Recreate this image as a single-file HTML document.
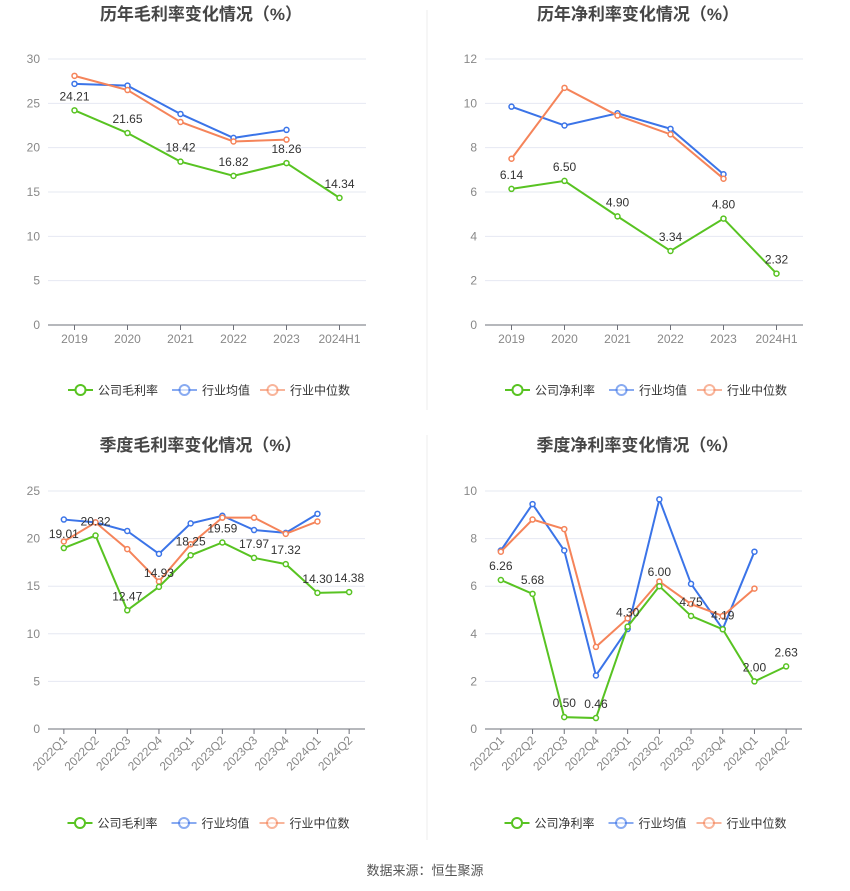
<!DOCTYPE html>
<html><head><meta charset="utf-8">
<style>
body{margin:0;background:#fff;width:850px;height:891px;overflow:hidden;font-family:"Liberation Sans","Noto Sans CJK SC",sans-serif;}
svg{display:block}
</style></head>
<body>
<svg id="root" width="850" height="891">
<line x1="427" y1="10" x2="427" y2="410" stroke="#eeeeee"/>
<line x1="427" y1="435" x2="427" y2="840" stroke="#eeeeee"/>
<text x="425" y="875" text-anchor="middle" font-size="13" fill="#555">数据来源：恒生聚源</text>
</svg>
<script>
const yearCats=["2019","2020","2021","2022","2023","2024H1"];
const qCats=["2022Q1","2022Q2","2022Q3","2022Q4","2023Q1","2023Q2","2023Q3","2023Q4","2024Q1","2024Q2"];
const c1Company=[24.21,21.65,18.42,16.82,18.26,14.34];
const c1Avg=[27.2,27.0,23.8,21.1,22.0];
const c1Med=[28.1,26.5,22.9,20.7,20.9];
const c1Ticks=[0,5,10,15,20,25,30];
const c2Company=[6.14,6.50,4.90,3.34,4.80,2.32];
const c2Avg=[9.85,9.0,9.55,8.85,6.8];
const c2Med=[7.5,10.7,9.45,8.6,6.6];
const c2Ticks=[0,2,4,6,8,10,12];
const c3Company=[19.01,20.32,12.47,14.93,18.25,19.59,17.97,17.32,14.30,14.38];
const c3Avg=[22.0,21.7,20.8,18.4,21.6,22.4,20.9,20.6,22.6];
const c3Med=[19.7,21.7,18.9,15.5,19.4,22.2,22.2,20.5,21.8];
const c3Ticks=[0,5,10,15,20,25];
const c4Company=[6.26,5.68,0.50,0.46,4.30,6.00,4.75,4.19,2.00,2.63];
const c4Avg=[7.5,9.45,7.5,2.25,4.2,9.65,6.1,4.2,7.45];
const c4Med=[7.45,8.8,8.4,3.45,4.65,6.2,5.25,4.75,5.9];
const c4Ticks=[0,2,4,6,8,10];

const NS="http://www.w3.org/2000/svg";
const root=document.getElementById('root');
function mk(tag,attrs,parent){const e=document.createElementNS(NS,tag);for(const k in attrs)e.setAttribute(k,attrs[k]);(parent||root).appendChild(e);return e;}

function chart(o){
  const g=mk('g',{});
  
  
  const x0=o.x0,x1=o.x1,yTop=o.yTop,yBot=o.yBot,max=o.ticks[o.ticks.length-1];
  const n=o.cats.length,bw=(x1-x0)/n;
  const X=i=>x0+bw*(i+0.5);
  const Y=v=>yBot-(v/max)*(yBot-yTop);
  const t=mk('text',{x:(x0+x1)/2-6,y:o.titleY,'text-anchor':'middle','font-size':'17','font-weight':'bold',fill:'#464646'},g);
  t.textContent=o.title;
  
  
  o.ticks.forEach(v=>{
    if(v>0){const l=mk('line',{x1:x0,x2:x1,y1:Y(v),y2:Y(v),stroke:'#e6e8f2'},g);
      
      }
    const tt=mk('text',{x:x0-8,y:Y(v)+4,'text-anchor':'end','font-size':'12',fill:'#888'},g);
    tt.textContent=v;
    
    
  });
  const ax=mk('line',{x1:x0,x2:x1,y1:yBot,y2:yBot,stroke:'#6e7079'},g);
  
  
  o.cats.forEach((c,i)=>{
    mk('line',{x1:X(i),x2:X(i),y1:yBot,y2:yBot+5,stroke:'#6e7079'},g);
    let tt;
    if(o.rot){tt=mk('text',{x:X(i)+4,y:yBot+12,'text-anchor':'end','font-size':'12',fill:'#888',transform:`rotate(-45 ${X(i)+4} ${yBot+12})`},g);}
    else tt=mk('text',{x:X(i),y:yBot+18,'text-anchor':'middle','font-size':'12',fill:'#888'},g);
    tt.textContent=c;
    
    
  });
  const series=[[o.avg,'#3b74e8','industry-average-line'],[o.med,'#f5845a','industry-median-line'],[o.comp,'#58c322','company-line']];
  series.forEach(([d,col,nm])=>{
    const p=mk('polyline',{points:d.map((v,i)=>X(i)+','+Y(v)).join(' '),fill:'none',stroke:col,'stroke-width':'2'},g);
    
    
    d.forEach((v,i)=>{const c=mk('circle',{cx:X(i),cy:Y(v),r:2.5,fill:'#fff',stroke:col,'stroke-width':'1.5'},g);
      
      });
  });
  o.comp.forEach((v,i)=>{
    const tt=mk('text',{x:X(i),y:Y(v)-10,'text-anchor':'middle','font-size':'12',fill:'#333'},g);
    tt.textContent=v.toFixed(2);
    
    
  });
  const cx=(x0+x1)/2, ly=o.legY;
  const items=[[o.compName,'#58c322',cx-139],['行业均值','#3b74e8',cx-35],['行业中位数','#f5845a',cx+53]];
  items.forEach(([nm,col,lx])=>{
    const lg=mk('g',{},g);
    
    
    const op=col==='#58c322'?1:0.6;
    mk('line',{x1:lx,x2:lx+25,y1:ly,y2:ly,stroke:col,'stroke-width':2,opacity:op},lg);
    mk('circle',{cx:lx+12.5,cy:ly,r:5,fill:'#fff',stroke:col,'stroke-width':2,opacity:op},lg);
    const tt=mk('text',{x:lx+30,y:ly+4.5,'font-size':'12',fill:'#333'},lg);tt.textContent=nm;
  });
}
chart({name:'annual-gross-margin-chart',title:'历年毛利率变化情况（%）',titleY:20,x0:48,x1:366,yTop:59,yBot:325,ticks:c1Ticks,cats:yearCats,comp:c1Company,avg:c1Avg,med:c1Med,compName:'公司毛利率',legY:390,rot:false});
chart({name:'annual-net-margin-chart',title:'历年净利率变化情况（%）',titleY:20,x0:485,x1:803,yTop:59,yBot:325,ticks:c2Ticks,cats:yearCats,comp:c2Company,avg:c2Avg,med:c2Med,compName:'公司净利率',legY:390,rot:false});
chart({name:'quarterly-gross-margin-chart',title:'季度毛利率变化情况（%）',titleY:451,x0:48,x1:365,yTop:491,yBot:729,ticks:c3Ticks,cats:qCats,comp:c3Company,avg:c3Avg,med:c3Med,compName:'公司毛利率',legY:823,rot:true});
chart({name:'quarterly-net-margin-chart',title:'季度净利率变化情况（%）',titleY:451,x0:485,x1:802,yTop:491,yBot:729,ticks:c4Ticks,cats:qCats,comp:c4Company,avg:c4Avg,med:c4Med,compName:'公司净利率',legY:823,rot:true});
</script>
</body></html>
